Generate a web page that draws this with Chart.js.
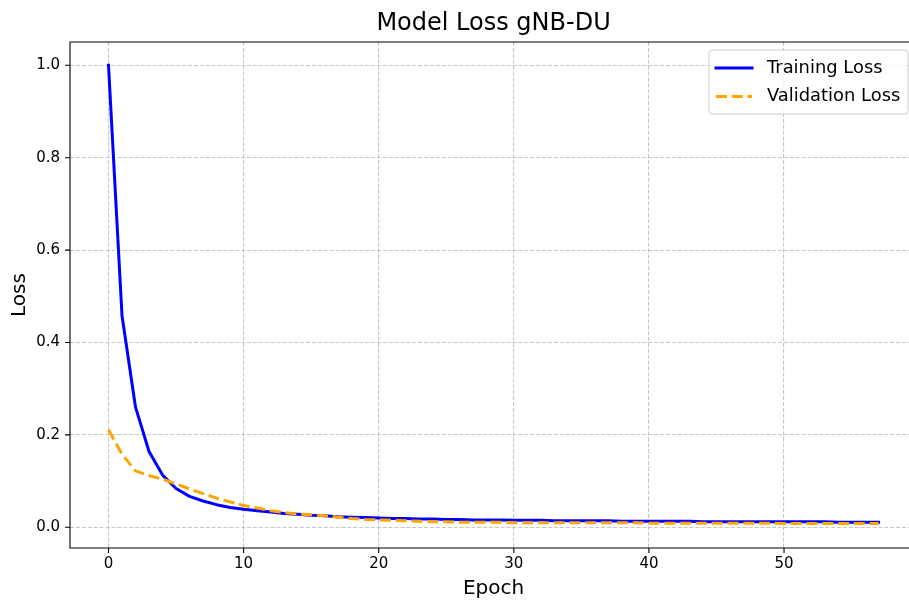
<!DOCTYPE html>
<html>
<head>
<meta charset="utf-8">
<title>Model Loss gNB-DU</title>
<script src="https://cdn.jsdelivr.net/npm/chart.js@4.4.1/dist/chart.umd.min.js"></script>
<style>
  html, body { margin: 0; padding: 0; background: #fff; overflow: hidden; }
  canvas { display: block; }
</style>
</head>
<body>
<canvas id="lossChart" width="909" height="601"></canvas>
<script>
// Epoch index for each recorded loss value
const epochs = [
  0, 1, 2, 3, 4, 5, 6, 7, 8, 9,
  10, 11, 12, 13, 14, 15, 16, 17, 18, 19,
  20, 21, 22, 23, 24, 25, 26, 27, 28, 29,
  30, 31, 32, 33, 34, 35, 36, 37, 38, 39,
  40, 41, 42, 43, 44, 45, 46, 47, 48, 49,
  50, 51, 52, 53, 54, 55, 56, 57
];

const trainingLoss = [
  1.000, 0.458, 0.260, 0.164, 0.113, 0.084, 0.067, 0.057, 0.049, 0.043,
  0.039, 0.036, 0.033, 0.030, 0.028, 0.026, 0.025, 0.023, 0.022, 0.021,
  0.020, 0.019, 0.019, 0.018, 0.018, 0.017, 0.017, 0.016, 0.016, 0.016,
  0.015, 0.015, 0.015, 0.014, 0.014, 0.014, 0.014, 0.014, 0.013, 0.013,
  0.013, 0.013, 0.013, 0.013, 0.012, 0.012, 0.012, 0.012, 0.012, 0.012,
  0.012, 0.012, 0.012, 0.012, 0.011, 0.011, 0.011, 0.011
];

const validationLoss = [
  0.211, 0.158, 0.122, 0.112, 0.104, 0.094, 0.083, 0.073, 0.063, 0.055,
  0.047, 0.042, 0.036, 0.032, 0.029, 0.027, 0.025, 0.022, 0.019, 0.017,
  0.016, 0.015, 0.014, 0.013, 0.012, 0.012, 0.011, 0.011, 0.011, 0.011,
  0.010, 0.010, 0.010, 0.010, 0.010, 0.010, 0.010, 0.010, 0.010, 0.010,
  0.009, 0.009, 0.009, 0.009, 0.009, 0.009, 0.009, 0.009, 0.009, 0.009,
  0.008, 0.008, 0.008, 0.008, 0.008, 0.008, 0.008, 0.008
];

const seriesLabels = ['Training Loss', 'Validation Loss'];
const xTicks = [0, 10, 20, 30, 40, 50];
const yTicks = [0.0, 0.2, 0.4, 0.6, 0.8, 1.0];

const chartTitle = 'Model Loss gNB-DU';
const xAxisLabel = 'Epoch';
const yAxisLabel = 'Loss';

// The x axis nominally spans -2.85..59.85; the canvas shows it up to 59.25
const X_MIN = -2.85, X_FULL_MAX = 59.85, X_SHOWN_MAX = 59.25;

const FONT = 'DejaVu Sans';
Chart.defaults.font.family = FONT;
Chart.defaults.color = '#000';

const toPoints = (ys) => epochs.map((e, i) => ({ x: e, y: ys[i] }));

// Horizontal centre of the full axes box
function axesMid(chart) {
  const a = chart.chartArea;
  const fullRight = a.left + (a.right - a.left) * (X_FULL_MAX - X_MIN) / (X_SHOWN_MAX - X_MIN);
  return (a.left + fullRight) / 2;
}

// Title and x-axis label centred on the axes box; spines, tick marks and legend
const framePlugin = {
  id: 'frameAndLegend',
  afterDraw(chart) {
    const { ctx, chartArea: a, scales: { x, y } } = chart;
    const mid = axesMid(chart);
    ctx.save();

    // title
    ctx.fillStyle = '#000';
    ctx.textAlign = 'center';
    ctx.textBaseline = 'middle';
    ctx.font = '24px "' + FONT + '"';
    ctx.fillText(chartTitle, mid, 24);

    // x-axis label
    ctx.font = '20px "' + FONT + '"';
    ctx.fillText(xAxisLabel, mid, 589);

    // tick marks
    ctx.strokeStyle = '#000';
    ctx.lineWidth = 1.1;
    ctx.beginPath();
    x.ticks.forEach(t => {
      const px = x.getPixelForValue(t.value);
      ctx.moveTo(px, a.bottom);
      ctx.lineTo(px, a.bottom + 5);
    });
    y.ticks.forEach(t => {
      const py = y.getPixelForValue(t.value);
      ctx.moveTo(a.left, py);
      ctx.lineTo(a.left - 5, py);
    });
    ctx.stroke();

    // spines (the right one lies just past the canvas edge)
    ctx.beginPath();
    ctx.moveTo(a.right + 1, a.top);
    ctx.lineTo(a.left, a.top);
    ctx.lineTo(a.left, a.bottom);
    ctx.lineTo(a.right + 1, a.bottom);
    ctx.stroke();

    // legend
    const bw = 199, bh = 64;
    const bx = a.right - 1 - bw;
    const by = a.top + 8;
    ctx.beginPath();
    ctx.roundRect(bx, by, bw, bh, 3.5);
    ctx.fillStyle = 'rgba(255,255,255,0.8)';
    ctx.fill();
    ctx.strokeStyle = '#cccccc';
    ctx.lineWidth = 1;
    ctx.stroke();

    const rows = [by + 18, by + 46.5];
    chart.data.datasets.forEach((ds, i) => {
      const ry = rows[i];
      ctx.beginPath();
      ctx.strokeStyle = ds.borderColor;
      ctx.lineWidth = ds.borderWidth;
      ctx.lineCap = ds.borderCapStyle;
      ctx.setLineDash(ds.borderDash || []);
      ctx.moveTo(bx + 7, ry);
      ctx.lineTo(bx + 43, ry);
      ctx.stroke();
      ctx.setLineDash([]);
      ctx.fillStyle = '#000';
      ctx.font = '17.9px "' + FONT + '"';
      ctx.textBaseline = 'middle';
      ctx.textAlign = 'left';
      ctx.fillText(ds.label, bx + 58, ry);
    });

    ctx.restore();
  }
};

new Chart(document.getElementById('lossChart'), {
  type: 'line',
  data: {
    datasets: [
      {
        label: seriesLabels[0],
        data: toPoints(trainingLoss),
        borderColor: '#0000ff',
        borderWidth: 3,
        borderCapStyle: 'square',
        borderJoinStyle: 'round',
        pointRadius: 0,
        tension: 0,
        fill: false,
        order: 1
      },
      {
        label: seriesLabels[1],
        data: toPoints(validationLoss),
        borderColor: '#ffa500',
        borderWidth: 3,
        borderDash: [11, 4.8],
        borderCapStyle: 'butt',
        borderJoinStyle: 'round',
        pointRadius: 0,
        tension: 0,
        fill: false,
        order: 0
      }
    ]
  },
  options: {
    responsive: false,
    animation: false,
    events: [],
    layout: { padding: { top: 42, left: 0, right: 0, bottom: 0 } },
    plugins: {
      legend: { display: false },
      tooltip: { enabled: false },
      title: { display: false }
    },
    scales: {
      x: {
        type: 'linear',
        min: X_MIN,
        max: X_SHOWN_MAX,
        afterBuildTicks: (s) => { s.ticks = xTicks.map(v => ({ value: v })); },
        afterFit: (s) => { s.height = 53; },
        ticks: {
          padding: 7,
          color: '#000',
          font: { family: FONT, size: 15, lineHeight: 1.2 },
          callback: (v) => String(v),
          maxRotation: 0
        },
        grid: { color: 'rgba(176,176,176,0.7)', lineWidth: 1.1, drawTicks: false },
        border: { display: false, dash: [4.1, 1.8] },
        title: { display: false }
      },
      y: {
        type: 'linear',
        min: -0.0448,
        max: 1.0504,
        afterBuildTicks: (s) => { s.ticks = yTicks.map(v => ({ value: v })); },
        afterFit: (s) => { s.width = 70; },
        ticks: {
          padding: 10,
          color: '#000',
          font: { family: FONT, size: 15, lineHeight: 1.2 },
          callback: (v) => Number(v).toFixed(1)
        },
        grid: { color: 'rgba(176,176,176,0.7)', lineWidth: 1.1, drawTicks: false },
        border: { display: false, dash: [4.1, 1.8] },
        title: {
          display: true,
          text: yAxisLabel,
          color: '#000',
          font: { family: FONT, size: 20, weight: 'normal', lineHeight: 1.2 },
          padding: { top: 8, bottom: 0 }
        }
      }
    }
  },
  plugins: [framePlugin]
});
</script>
</body>
</html>
